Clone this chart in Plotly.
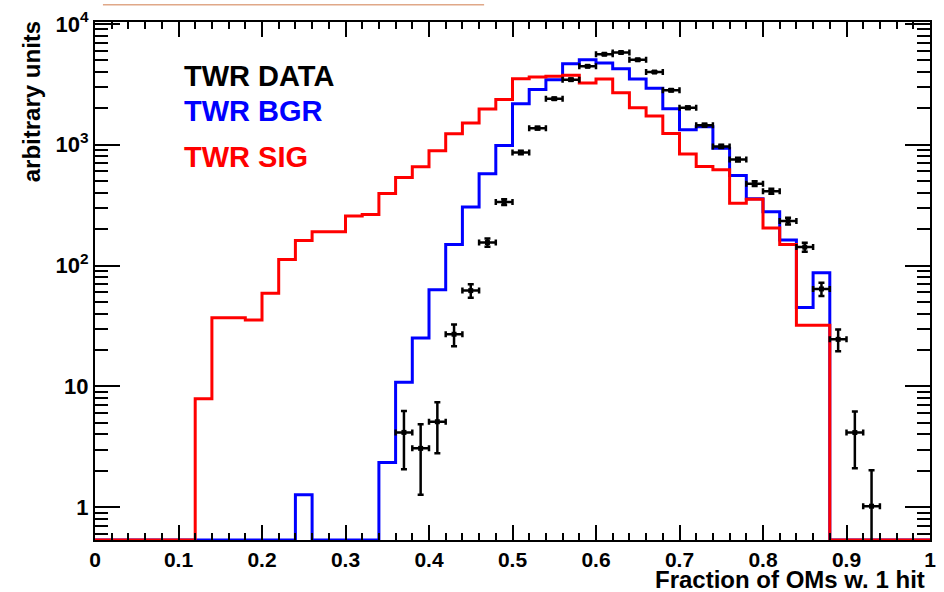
import numpy as np
import plotly.graph_objects as go

# ---------------- data ----------------
bin_edges_lo = 0.0
bin_width = 0.02
n_bins = 50

sig_values = [0, 0, 0, 0, 0, 0, 7.9, 37, 37, 35.4,
              59, 112, 161, 190, 190, 257, 264, 394, 535, 656,
              891, 1234, 1514, 1970, 2360, 3510, 3630, 3680, 3750, 3245,
              3500, 2685, 2023, 1729, 1239, 837, 660, 620, 327, 354,
              204, 149, 32, 32, 0, 0, 0, 0, 0, 0]

bgr_values = [0, 0, 0, 0, 0, 0, 0, 0, 0, 0,
              0, 0, 1.27, 0, 0, 0, 0, 2.34, 10.8, 25.2,
              63, 149, 305, 574, 983, 2184, 2858, 3451, 4667, 5032,
              4730, 4250, 3499, 2933, 1987, 1327, 1405, 933, 557, 357,
              279, 163, 45, 87, 0, 0, 0, 0, 0, 0]

data_x = [0.37, 0.39, 0.41, 0.43, 0.45, 0.47, 0.49, 0.51, 0.53, 0.55,
          0.57, 0.59, 0.61, 0.63, 0.65, 0.67, 0.69, 0.71, 0.73, 0.75,
          0.77, 0.79, 0.81, 0.83, 0.85, 0.87, 0.89, 0.91, 0.93]
data_y = [4.16, 3.07, 5.1, 27, 62, 155, 335, 863, 1370, 2400,
          3450, 4450, 5600, 5790, 5040, 3990, 2820, 2020, 1450, 968,
          753, 476, 412, 234, 142, 64, 24.5, 4.15, 1.02]
data_err = [2.1, 1.8, 2.3, 5.5, 8, 12, 18, 29, 37, 49,
            59, 67, 75, 76, 71, 63, 53, 45, 38, 31,
            27, 22, 20, 15, 12, 8, 5, 2.05, 1.0]

x_ticks = [0, 0.1, 0.2, 0.3, 0.4, 0.5, 0.6, 0.7, 0.8, 0.9, 1]
x_ticklabels = ["0", "0.1", "0.2", "0.3", "0.4", "0.5", "0.6", "0.7", "0.8", "0.9", "1"]
y_ticks = [1, 10, 100, 1000, 10000]
y_ticklabels = ["1", "10", "10<sup>2</sup>", "10<sup>3</sup>", "10<sup>4</sup>"]

legend_labels = ["TWR DATA", "TWR BGR", "TWR SIG"]
x_title = "Fraction of OMs w. 1 hit"
y_title = "arbitrary units"

# ---------------- construction ----------------
YMIN_LOG = -0.271
YMAX_LOG = 4.015
y_floor = 10 ** YMIN_LOG

edges = [bin_edges_lo + i * bin_width for i in range(n_bins + 1)]


def step_xy(values):
    v = [val if val > 0 else y_floor for val in values]
    return edges, v + [v[-1]]


fig = go.Figure()

bx, by = step_xy(bgr_values)
fig.add_trace(go.Scatter(x=bx, y=by, mode="lines", line=dict(color="#0000ff", width=3, shape="hv"),
                         showlegend=False, hoverinfo="skip"))
sx, sy = step_xy(sig_values)
fig.add_trace(go.Scatter(x=sx, y=sy, mode="lines", line=dict(color="#ff0000", width=3, shape="hv"),
                         showlegend=False, hoverinfo="skip"))
fig.add_trace(go.Scatter(
    x=data_x, y=data_y, mode="markers",
    marker=dict(symbol="square", size=5, color="black"),
    error_x=dict(type="constant", value=bin_width / 2, color="black", thickness=2.5, width=3),
    error_y=dict(type="data", array=data_err, color="black", thickness=2.5, width=3),
    showlegend=False))

label_font = dict(family="Liberation Sans, Arial, sans-serif", size=21, color="black", weight="bold")

minor_y = []
for d in range(-1, 5):
    for k in range(2, 10):
        v = k * 10 ** d
        if 10 ** YMIN_LOG <= v <= 10 ** YMAX_LOG:
            minor_y.append(v)

fig.update_layout(
    width=944, height=592,
    margin=dict(l=95, r=8, t=18, b=52),
    paper_bgcolor="white", plot_bgcolor="white",
    font=dict(family="Liberation Sans, Arial, sans-serif", weight="bold", color="black"),
    xaxis=dict(range=[0, 1], tickvals=x_ticks, ticktext=x_ticklabels,
               ticks="inside", ticklen=15, tickwidth=1.5, tickcolor="black",
               showline=True, linecolor="black", linewidth=2, mirror="allticks",
               showgrid=False, zeroline=False, tickfont=label_font,
               minor=dict(dtick=0.02, tick0=0, ticks="inside", ticklen=7, tickwidth=1.5,
                          tickcolor="black", showgrid=False)),
    yaxis=dict(type="log", range=[YMIN_LOG, YMAX_LOG], tickvals=y_ticks, ticktext=y_ticklabels,
               ticks="inside", ticklen=25, tickwidth=1.5, tickcolor="black",
               showline=True, linecolor="black", linewidth=2, mirror="allticks",
               showgrid=False, zeroline=False, tickfont=dict(label_font, size=22),
               minor=dict(tickvals=minor_y, ticks="inside", ticklen=13, tickwidth=1.5,
                          tickcolor="black", showgrid=False)),
)

title_font = dict(family="Liberation Sans, Arial, sans-serif", size=24, color="black", weight="bold")
fig.add_annotation(text=x_title, xref="paper", yref="paper", x=0.9964, y=-0.0766,
                   xanchor="right", yanchor="middle", showarrow=False, font=title_font)
fig.add_annotation(text=y_title, xref="paper", yref="paper", x=-0.0761, y=0.846,
                   xanchor="center", yanchor="middle", textangle=-90, showarrow=False, font=title_font)

leg_colors = ["black", "#0000ff", "#ff0000"]
leg_y = [0.8965, 0.829, 0.739]
for lab, col, yy in zip(legend_labels, leg_colors, leg_y):
    fig.add_annotation(text=lab, xref="paper", yref="paper", x=0.1046, y=yy,
                       xanchor="left", yanchor="middle", showarrow=False,
                       font=dict(family="Liberation Sans, Arial, sans-serif", size=29, color=col,
                                 weight="bold"))

# thin tan line at the very top of the image
fig.add_shape(type="line", xref="paper", yref="paper", x0=0.0095, x1=0.466, y0=1.0335, y1=1.0335,
              line=dict(color="#E0A888", width=1.5))

fig.write_html("out.html")
